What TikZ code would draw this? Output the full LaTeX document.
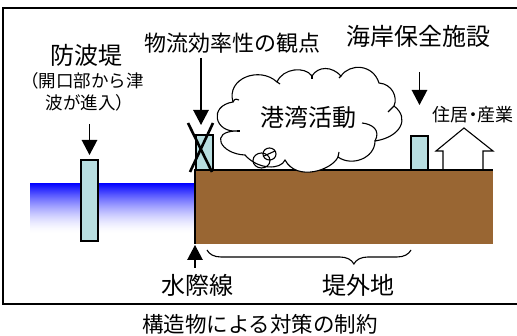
\documentclass[tikz,border=0pt]{standalone}
\usepackage{fontspec}
\setmainfont{Noto Sans CJK JP}
\usetikzlibrary{arrows.meta,decorations.pathreplacing}
\definecolor{wallblue}{RGB}{184,222,224}
\definecolor{soilbrown}{RGB}{153,102,51}
\tikzset{
    lbl/.style={inner sep=0pt,align=center,font=\fontsize{#1}{#1}\selectfont},
    wall/.style={draw,fill=wallblue,line width=1.3pt,minimum width=17pt,inner sep=0pt,outer sep=0pt},
    downarrow/.style={line width=1.2pt,-{Triangle[length=15pt,width=15.5pt]}},
    crossbar/.style={line width=2.6pt},
    cloudline/.style={line width=1.1pt},
}
\begin{document}
\begin{tikzpicture}[x=1pt,y=-1pt]
    \useasboundingbox (0,0) rectangle (517,336);
    \node[draw,line width=1.6pt,minimum width=516pt,minimum height=296pt,inner sep=0pt,outer sep=0pt] (frame) at (261,156) {};
    % sea and land
    \foreach \row [evaluate=\row as \pct using {100*(1-\row/50)^1.6}] in {0,...,49}
        \fill[blue!\pct!white] (30,183+\row) rectangle (195,184.3+\row);
    \node[fill=soilbrown,minimum width=298pt,minimum height=74pt,inner sep=0pt,outer sep=0pt] (ground) at (344,207) {};
    \draw[line width=1.2pt] (ground.south west) -- (ground.north west) -- (ground.north east);
    % structures
    \node[wall,minimum height=81pt] (breakwater) at (89.5,200.5) {};
    \node[wall,minimum height=35pt] (gate) at (204.5,152.5) {};
    \node[wall,minimum height=34pt] (seawall) at (419.5,153) {};
    \draw[crossbar] (188,123) -- (212,172);
    \draw[crossbar] (213,123) -- (190,172);
    % house
    \draw[line width=1.1pt] (443,170) -- (443,151) -- (436,151) -- (464,128) -- (493,151) -- (483,151) -- (483,170);
    % cloud
    \draw[cloudline,fill=white] (233,102) .. controls (226,78) and (260,66) .. (277,82)
        .. controls (283,68) and (305,66) .. (312,76)
        .. controls (318,66) and (332,66) .. (341,76)
        .. controls (350,63) and (373,64) .. (379,83)
        .. controls (392,84) and (398,97) .. (394,106)
        .. controls (410,118) and (401,137) .. (375,141)
        .. controls (375,158) and (352,167) .. (338,157)
        .. controls (332,170) and (297,182) .. (285,160)
        .. controls (281,170) and (258,170) .. (245,155)
        .. controls (220,154) and (209,131) .. (237,131)
        .. controls (215,133) and (208,106) .. (233,102) -- cycle;
    \draw[cloudline] (233,102) .. controls (235,98) and (237,99) .. (239,100);
    \draw[cloudline] (277,82) -- (280,84);
    \draw[cloudline] (312,76) -- (312,79);
    \draw[cloudline] (341,76) -- (339,78);
    \draw[cloudline] (394,106) -- (388,112);
    \draw[cloudline] (375,141) .. controls (381,130) and (372,124) .. (362,123);
    \draw[cloudline] (338,157) -- (339,152);
    \draw[cloudline] (237,131) -- (240,131);
    \draw[cloudline] (261.5,160.5) ellipse (8.5 and 7.5);
    \draw[cloudline] (269.5,154) ellipse (6.5 and 6);
    \draw[cloudline] (264,156) -- (275,151);
    % labels
    \node[lbl=24] (bwname) at (86,55) {防波堤};
    \node[lbl=17.5] (bwnoteone) at (82.5,81) {（開口部から津};
    \node[lbl=17.5] (bwnotetwo) at (89.5,103) {波が進入）};
    \node[lbl=22] (logistics) at (232,43) {物流効率性の観点};
    \node[lbl=24] (coast) at (418.5,36) {海岸保全施設};
    \node[lbl=18] (dwelling) at (473,115) {住居\kern-4.5pt・\kern-4.5pt産業};
    \node[lbl=24] (port) at (308,117) {港湾活動};
    \node[lbl=24] (waterline) at (197,285) {水際線};
    \node[lbl=24] (foreshore) at (358,285) {堤外地};
    \node[lbl=21.5] (caption) at (260,324) {構造物による対策の制約};
    % arrows
    \coordinate (bwtop) at (89.5,124);
    \coordinate (lgtop) at (201,58);
    \coordinate (cstop) at (419.5,72);
    \coordinate (wltail) at (195,268);
    \draw[downarrow,shorten >=5pt] (bwtop) -- (breakwater.north);
    \draw[downarrow,shorten >=10pt] (lgtop) -- (lgtop |- gate.north);
    \draw[downarrow,shorten >=31pt] (cstop) -- (seawall.north);
    \draw[downarrow,shorten >=1pt] (wltail) -- (ground.south west);
    % brace
    \coordinate (braceleft) at (207,250);
    \coordinate (braceright) at (411,250);
    \draw[line width=1.1pt,decorate,decoration={brace,amplitude=14pt,aspect=0.72,mirror}] (braceleft) -- (braceright);
\end{tikzpicture}
\end{document}
